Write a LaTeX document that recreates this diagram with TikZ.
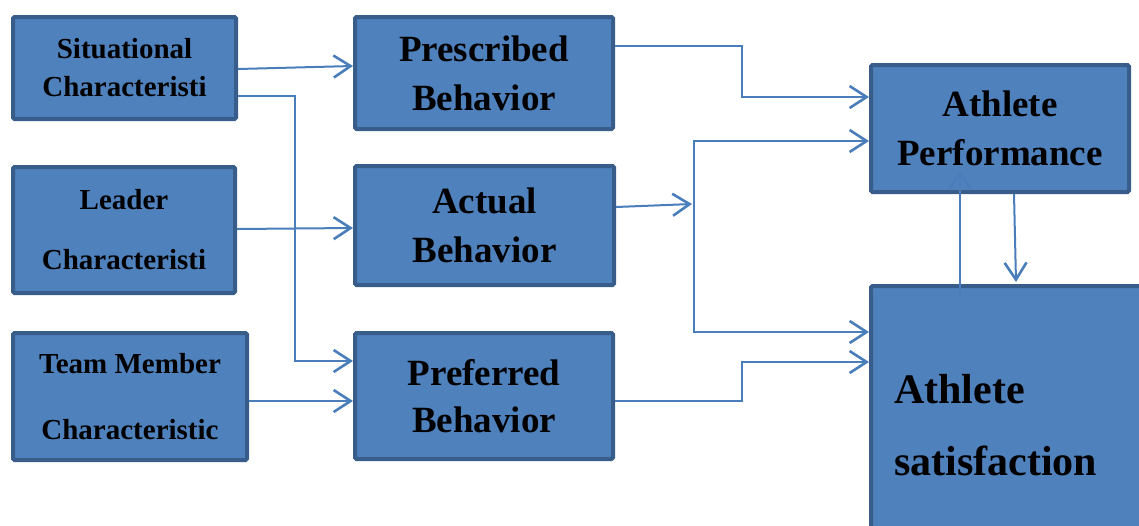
\documentclass[tikz,border=0pt]{standalone}
\usepackage{fontspec}
\setmainfont{Liberation Serif}
\usepackage{tikz}
\usetikzlibrary{arrows.meta}
\definecolor{boxfill}{HTML}{4F81BD}
\definecolor{boxline}{HTML}{385D8A}
\definecolor{linkcol}{HTML}{4A7EBB}
\tikzset{
  box/.style={draw=boxline, fill=boxfill, line width=4pt, rounded corners=1.5pt,
    align=center, inner sep=0pt, font=\bfseries},
  small/.style={font=\bfseries\fontsize{29}{38}\selectfont},
  mid/.style={font=\bfseries\fontsize{37}{49}\selectfont},
  barb/.tip={Straight Barb[length=17pt,width=22pt,line width=2.6pt]},
  link/.style={linkcol, line width=2pt, -barb},
}

\begin{document}
\begin{tikzpicture}[x=1pt,y=-1pt]
  \useasboundingbox (0,0) rectangle (1139,525);
  % left column
  \node[box,small,minimum width=223pt,minimum height=102pt] (sit) at (124.5,68) {Situational\\Characteristi};
  \node[box,small,minimum width=222pt,minimum height=126pt] (lead) at (124,230) {Leader\\[22pt]Characteristi};
  \node[box,small,minimum width=234pt,minimum height=127pt] (team) at (130,396.5) {Team Member\\[28pt]Characteristic};
  % behaviour column
  \node[box,mid,minimum width=258pt,minimum height=112pt] (pres) at (484,73) {Prescribed\\Behavior};
  \node[box,mid,minimum width=259pt,minimum height=119pt] (act) at (484.5,225.5) {Actual\\Behavior};
  \node[box,mid,minimum width=258pt,minimum height=126pt] (pref) at (484,396) {Preferred\\[-2pt]Behavior};
  % outcomes
  \node[box,mid,minimum width=258pt,minimum height=127pt] (perf) at (1000,128.5) {Athlete\\Performance};
  \node[box,minimum width=309pt,minimum height=284pt] (sat) at (1025.5,428) {};
  \node[anchor=west,inner sep=0pt,align=left,font=\bfseries\fontsize{42}{72}\selectfont] (satlbl) at (894,425) {Athlete\\satisfaction};

  \draw[link] (sit.east |- 0,69) -- (pres.west |- 0,66);
  \draw[link] (sit.east |- 0,96) -- (295,96) -- (295,361) -- (pref.west |- 0,361);
  \draw[link] (lead.east |- 0,229) -- (act.west |- 0,228);
  \draw[link] (team.east |- 0,401) -- (pref.west |- 0,401);
  \draw[link] (pres.east |- 0,46) -- (742,46) -- (742,97) -- (perf.west |- 0,97);
  \coordinate (jn) at (692,204);
  \draw[link] (act.east |- 0,207) -- (jn);
  \draw[link,barb-barb] (perf.west |- 0,141) -- (694,141) -- (694,332) -- (sat.west |- 0,332);
  \draw[link] (pref.east |- 0,401) -- (742,401) -- (742,362) -- (sat.west |- 0,362);
  \draw[link] ([yshift=-14pt]sat.north -| 960,0) -- ([yshift=24pt]perf.south -| 960,0);
  \draw[link] (perf.south -| 1014,0) -- ([yshift=2pt]sat.north -| 1016,0);
\end{tikzpicture}
\end{document}
